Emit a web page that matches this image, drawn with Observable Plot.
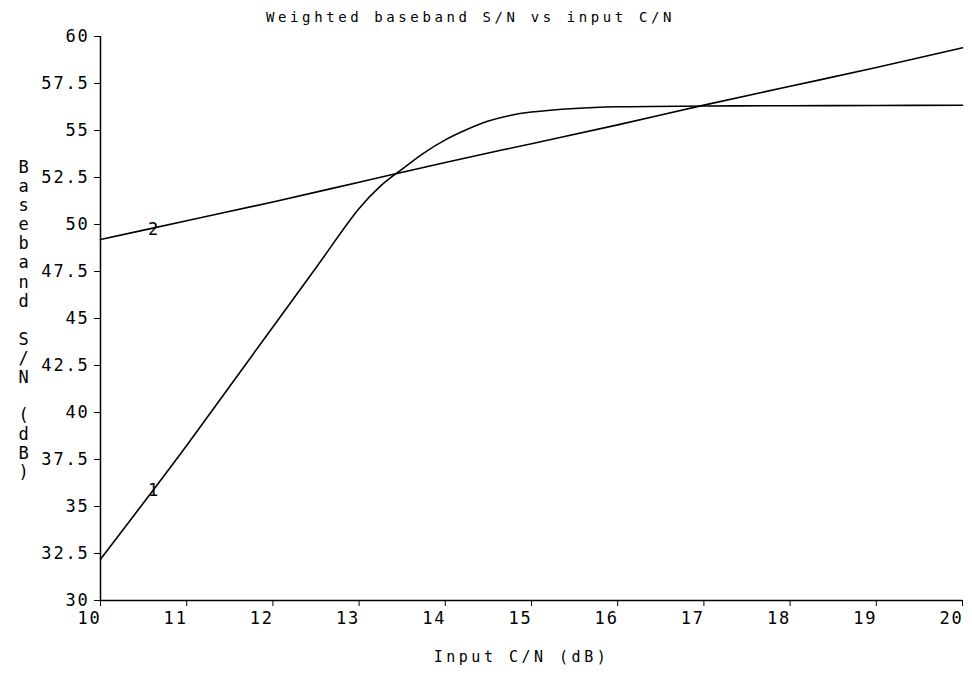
<!DOCTYPE html>
<html>
<head>
<meta charset="utf-8">
<script src="https://cdn.jsdelivr.net/npm/d3@7"></script>
<script src="https://cdn.jsdelivr.net/npm/@observablehq/plot@0.6"></script>
<style>
  body { margin: 0; background: #fff; }
  #chart svg text { letter-spacing: 1.8px; }
  #chart g[aria-description="title"] text { letter-spacing: 3.6px; }
  #chart g[aria-description="x-title"] text { letter-spacing: 3.5px; }
  #chart g[aria-description="y-title"] text { letter-spacing: 0; }
</style>
</head>
<body>
<div id="chart"></div>
<script>
// Curve 1: weighted baseband S/N (dB) against input C/N (dB)
const curve1CN = [10, 10.5, 11, 11.5, 12, 12.5, 13, 13.25, 13.5, 13.75, 14, 14.25, 14.5, 14.75, 15, 15.5, 16, 17, 18, 19, 20];
const curve1SN = [32.2, 35.2, 38.25, 41.4, 44.55, 47.7, 50.85, 52.05, 52.95, 53.8, 54.5, 55.05, 55.5, 55.8, 55.98, 56.17, 56.26, 56.3, 56.32, 56.33, 56.34];

// Curve 2
const curve2CN = [10, 11, 12, 13, 14, 15, 16, 17, 18, 19, 20];
const curve2SN = [49.2, 50.2, 51.2, 52.25, 53.3, 54.3, 55.3, 56.35, 57.35, 58.35, 59.4];

// Curve identifiers written on the lines
const labelText = ["1", "2"];
const labelCN = [10.62, 10.62];
const labelSN = [35.85, 49.75];

// Axis ticks
const xTicks = [10, 11, 12, 13, 14, 15, 16, 17, 18, 19, 20];
const yTicks = [30, 32.5, 35, 37.5, 40, 42.5, 45, 47.5, 50, 52.5, 55, 57.5, 60];

const titleText = "Weighted baseband S/N vs input C/N";
const xTitle = "Input C/N (dB)";
const yTitle = "Baseband S/N (dB)";

const chart = Plot.plot({
  width: 972,
  height: 674,
  marginLeft: 100,
  marginRight: 10,
  marginTop: 36,
  marginBottom: 74,
  style: {
    fontFamily: "'DejaVu Sans Mono', monospace",
    fontSize: "17px",
    color: "#000",
    background: "#fff",
    overflow: "visible"
  },
  x: {domain: [10, 20], ticks: xTicks, tickSize: 6, tickFormat: () => "", label: null},
  y: {domain: [30, 60], ticks: yTicks, tickSize: 6, tickPadding: 5, tickFormat: d => String(d), label: null},
  marks: [
    Plot.ruleX([10], {stroke: "#000", strokeWidth: 1.5}),
    Plot.ruleY([30], {stroke: "#000", strokeWidth: 1.5}),
    // x tick labels sit to the left of their ticks
    Plot.text(xTicks, {x: d => d, frameAnchor: "bottom", lineAnchor: "middle", textAnchor: "end", dy: 18, dx: 1, fontSize: 17, fill: "#000"}),
    Plot.line(curve1SN, {x: curve1CN, y: curve1SN, stroke: "#000", strokeWidth: 1.6, curve: "catmull-rom"}),
    Plot.line(curve2SN, {x: curve2CN, y: curve2SN, stroke: "#000", strokeWidth: 1.6, curve: "monotone-x"}),
    Plot.text(labelText, {x: labelCN, y: labelSN, text: labelText, fontSize: 17, fill: "#000"}),
    Plot.text([titleText], {frameAnchor: "top", lineAnchor: "middle", dy: -19, dx: -61, fontSize: 14, fill: "#000", ariaDescription: "title"}),
    Plot.text([xTitle], {frameAnchor: "bottom", lineAnchor: "middle", dy: 57, dx: -10, fontSize: 15, fill: "#000", ariaDescription: "x-title"}),
    Plot.text([yTitle.split("").map(c => c === " " ? "\u00a0" : c).join("\n")], {
      frameAnchor: "left", dx: -82, dy: 1, fontSize: 17, lineHeight: 1.12, fill: "#000", ariaDescription: "y-title"
    })
  ]
});

document.getElementById("chart").appendChild(chart);
</script>
</body>
</html>
